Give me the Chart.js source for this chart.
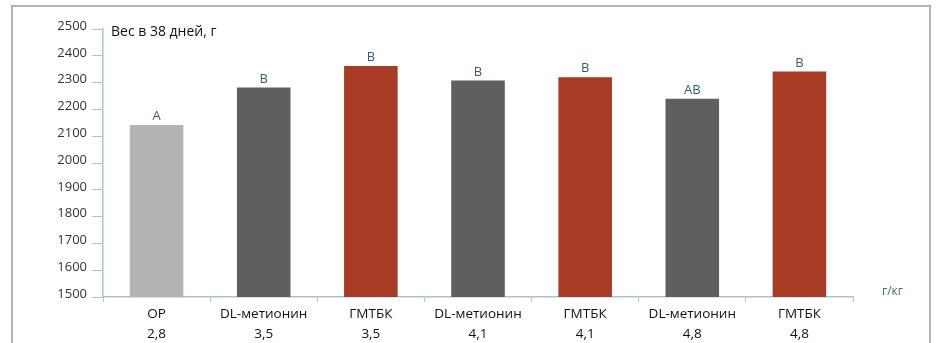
<!DOCTYPE html>
<html>
<head>
<meta charset="utf-8">
<script src="https://cdn.jsdelivr.net/npm/chart.js@4/dist/chart.umd.min.js"></script>
<style>
  html, body { margin: 0; padding: 0; background: #fff; }
  #wrap { width: 936px; height: 343px; position: relative; }
</style>
</head>
<body>
<div id="wrap"><canvas id="c" width="936" height="343"></canvas></div>
<script>
// Body weight at 38 days, g, by supplement and dose (g/kg)
const groups = ['ОР', 'DL-метионин', 'ГМТБК', 'DL-метионин', 'ГМТБК', 'DL-метионин', 'ГМТБК'];
const doses = ['2,8', '3,5', '3,5', '4,1', '4,1', '4,8', '4,8'];
const weights = [2142, 2282, 2362, 2308, 2320, 2240, 2341];
const letters = ['A', 'B', 'B', 'B', 'B', 'AB', 'B'];
const yTicks = [1500, 1600, 1700, 1800, 1900, 2000, 2100, 2200, 2300, 2400, 2500];

const colorOf = { 'ОР': '#b4b4b4', 'DL-метионин': '#5f5f5f', 'ГМТБК': '#a83b24' };
const FONT = '"Open Sans", "Noto Sans", sans-serif';
const AXIS = '#a9c3d1';

const decorations = {
  id: 'decorations',
  afterDraw(chart) {
    const ctx = chart.ctx;
    ctx.save();
    // outer frame
    ctx.strokeStyle = '#b3b3b3';
    ctx.lineWidth = 2;
    ctx.beginPath();
    ctx.moveTo(12, 350);
    ctx.lineTo(12, 6);
    ctx.lineTo(930, 6);
    ctx.lineTo(930, 350);
    ctx.stroke();
    // heading
    ctx.fillStyle = '#111';
    ctx.font = '14px ' + FONT;
    ctx.textAlign = 'left';
    ctx.textBaseline = 'middle';
    ctx.fillText('Вес в 38 дней, г', 111, 32);
    // unit label
    ctx.fillStyle = '#3f6f80';
    ctx.font = '12px ' + FONT;
    ctx.fillText('г/кг', 882, 292);
    // significance letters above bars
    const meta = chart.getDatasetMeta(0);
    ctx.fillStyle = '#345f70';
    ctx.font = '13px ' + FONT;
    ctx.textAlign = 'center';
    ctx.textBaseline = 'bottom';
    meta.data.forEach((bar, i) => {
      ctx.fillText(letters[i], bar.x, bar.y - 2);
    });
    ctx.restore();
  }
};

new Chart(document.getElementById('c'), {
  type: 'bar',
  data: {
    labels: groups.map((g, i) => [g, doses[i]]),
    datasets: [{
      data: weights,
      backgroundColor: groups.map(g => colorOf[g]),
      borderWidth: 0,
      categoryPercentage: 1,
      barPercentage: 0.5
    }]
  },
  options: {
    responsive: false,
    animation: false,
    layout: { padding: { left: 0, top: 29, right: 83, bottom: 0 } },
    plugins: { legend: { display: false }, tooltip: { enabled: false } },
    scales: {
      x: {
        grid: { drawOnChartArea: false, drawTicks: true, tickLength: 5, color: AXIS, offset: true },
        border: { color: AXIS, width: 1.5 },
        ticks: { color: '#111', font: { family: FONT, size: 13.5, lineHeight: 1.42 }, padding: 3, maxRotation: 0 },
        afterFit(s) { s.height = 46; }
      },
      y: {
        min: 1500,
        max: 2500,
        afterBuildTicks(s) { s.ticks = yTicks.map(v => ({ value: v })); },
        grid: { drawOnChartArea: false, drawTicks: true, tickLength: 11, color: AXIS },
        border: { color: AXIS, width: 1.5 },
        ticks: {
          color: '#333',
          font: { family: FONT, size: 13 },
          padding: 5,
          labelOffset: -3,
          callback: v => String(v)
        },
        afterFit(s) { s.width = 103; }
      }
    }
  },
  plugins: [decorations]
});
</script>
</body>
</html>
